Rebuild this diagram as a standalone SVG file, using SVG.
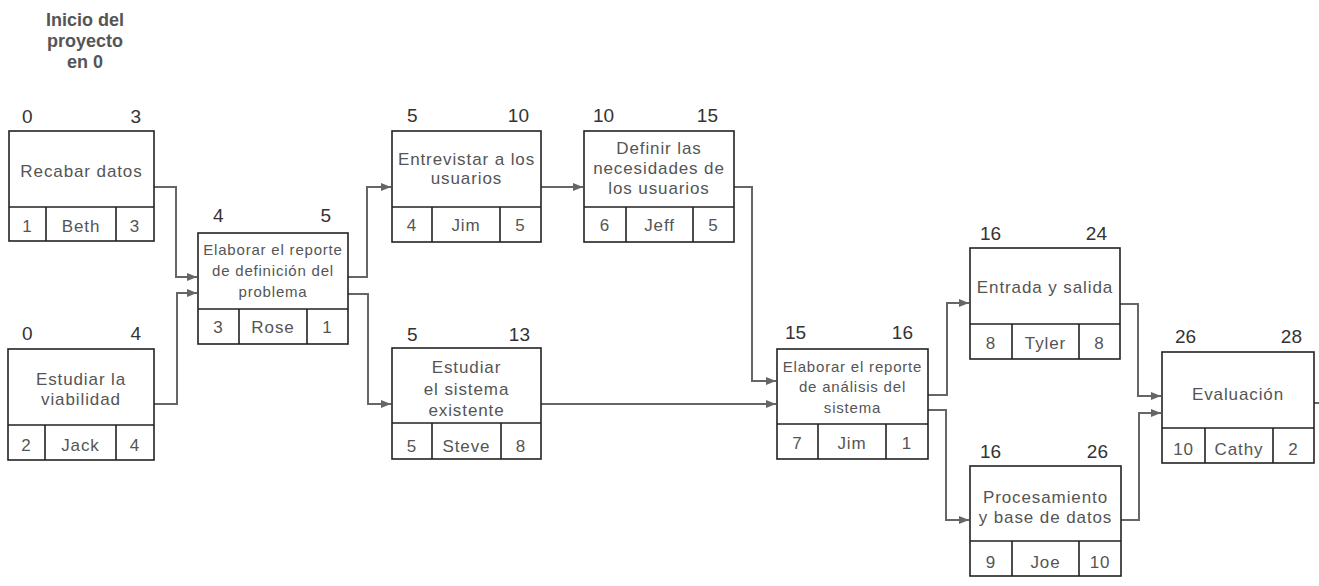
<svg xmlns="http://www.w3.org/2000/svg" width="1319" height="586" viewBox="0 0 1319 586">
<style>
.box{fill:#fff;stroke:#222;stroke-width:1.6}
.ln{stroke:#222;stroke-width:1.6;fill:none}
.t{font-family:"Liberation Sans Narrow","Liberation Sans",Arial,sans-serif;fill:#555;font-size:17px;letter-spacing:0.9px;text-anchor:middle}
.s{font-size:15px;letter-spacing:0.8px}
.n{font-family:"Liberation Sans Narrow","Liberation Sans",Arial,sans-serif;fill:#333;font-size:19px}
.e{text-anchor:end}
.h{font-family:"Liberation Sans",Arial,sans-serif;font-weight:bold;fill:#555;font-size:18px;text-anchor:middle}
.c{stroke:#666;stroke-width:2;fill:none;marker-end:url(#a)}
</style>
<defs>
<marker id="a" markerUnits="userSpaceOnUse" markerWidth="10" markerHeight="8" refX="10" refY="4" orient="auto">
<path d="M0,0 L10,4 L0,8 z" fill="#666"/>
</marker>
</defs>
<g id="header">
<text class="h" x="85" y="26">Inicio del</text>
<text class="h" x="85" y="47">proyecto</text>
<text class="h" x="85" y="68">en 0</text>
</g>
<g id="connectors">
<polyline class="c" points="154,187 176,187 176,277 197,277"/>
<polyline class="c" points="154,404 177,404 177,293 197,293"/>
<polyline class="c" points="348,277 367,277 367,187 391,187"/>
<polyline class="c" points="348,294 368,294 368,404 391,404"/>
<polyline class="c" points="541,187 583,187"/>
<polyline class="c" points="734,187 752,187 752,381 776,381"/>
<polyline class="c" points="541,404 776,404"/>
<polyline class="c" points="928,395 947,395 947,303 969,303"/>
<polyline class="c" points="928,410 946,410 946,520 969,520"/>
<polyline class="c" points="1120,304 1138,304 1138,396 1161,396"/>
<polyline class="c" points="1121,520 1139,520 1139,413 1161,413"/>
<line x1="1314" y1="403" x2="1319" y2="403" stroke="#666" stroke-width="2"/>
</g>
<g id="n1">
<rect class="box" x="9" y="131" width="145" height="110"/>
<path class="ln" d="M9,207H154M46,207V241M116,207V241"/>
<text class="n" x="22" y="123">0</text><text class="n e" x="141" y="123">3</text>
<text class="t" x="81.5" y="177">Recabar datos</text>
<text class="t" x="27.5" y="232">1</text><text class="t" x="81" y="232">Beth</text><text class="t" x="135" y="232">3</text>
</g>
<g id="n2">
<rect class="box" x="8" y="349" width="146" height="111"/>
<path class="ln" d="M8,425H154M45,425V460M116,425V460"/>
<text class="n" x="22" y="340">0</text><text class="n e" x="141" y="340">4</text>
<text class="t" x="81" y="385">Estudiar la</text>
<text class="t" x="81" y="405">viabilidad</text>
<text class="t" x="26.5" y="451">2</text><text class="t" x="80.5" y="451">Jack</text><text class="t" x="135" y="451">4</text>
</g>
<g id="n3">
<rect class="box" x="198" y="233" width="150" height="111"/>
<path class="ln" d="M198,309H348M239,309V344M307,309V344"/>
<text class="n" x="213" y="222">4</text><text class="n e" x="331" y="222">5</text>
<text class="t s" x="273" y="255">Elaborar el reporte</text>
<text class="t s" x="273" y="276">de definición del</text>
<text class="t s" x="273" y="297">problema</text>
<text class="t" x="218.5" y="333">3</text><text class="t" x="273" y="333">Rose</text><text class="t" x="327.5" y="333">1</text>
</g>
<g id="n4">
<rect class="box" x="392" y="131" width="149" height="111"/>
<path class="ln" d="M392,207H541M432,207V242M500,207V242"/>
<text class="n" x="407" y="122">5</text><text class="n e" x="529" y="122">10</text>
<text class="t" x="466.5" y="165">Entrevistar a los</text>
<text class="t" x="466.5" y="184">usuarios</text>
<text class="t" x="412" y="231">4</text><text class="t" x="466" y="231">Jim</text><text class="t" x="520.5" y="231">5</text>
</g>
<g id="n5">
<rect class="box" x="584" y="131" width="150" height="111"/>
<path class="ln" d="M584,207H734M626,207V242M693,207V242"/>
<text class="n" x="593" y="122">10</text><text class="n e" x="718" y="122">15</text>
<text class="t" x="659" y="154">Definir las</text>
<text class="t" x="659" y="174">necesidades de</text>
<text class="t" x="659" y="194">los usuarios</text>
<text class="t" x="605" y="231">6</text><text class="t" x="659.5" y="231">Jeff</text><text class="t" x="713.5" y="231">5</text>
</g>
<g id="n6">
<rect class="box" x="392" y="348" width="149" height="111"/>
<path class="ln" d="M392,423H541M432,423V459M501,423V459"/>
<text class="n" x="407" y="341">5</text><text class="n e" x="530" y="341">13</text>
<text class="t" x="466.5" y="373">Estudiar</text>
<text class="t" x="466.5" y="395">el sistema</text>
<text class="t" x="466.5" y="416">existente</text>
<text class="t" x="412" y="452">5</text><text class="t" x="466.5" y="452">Steve</text><text class="t" x="521" y="452">8</text>
</g>
<g id="n7">
<rect class="box" x="777" y="349" width="151" height="110"/>
<path class="ln" d="M777,424H928M818,424V459M886,424V459"/>
<text class="n" x="785" y="339">15</text><text class="n e" x="913" y="339">16</text>
<text class="t s" x="852.5" y="372">Elaborar el reporte</text>
<text class="t s" x="852.5" y="392">de análisis del</text>
<text class="t s" x="852.5" y="413">sistema</text>
<text class="t" x="797.5" y="449">7</text><text class="t" x="852" y="449">Jim</text><text class="t" x="907" y="449">1</text>
</g>
<g id="n8">
<rect class="box" x="970" y="248" width="150" height="111"/>
<path class="ln" d="M970,324H1120M1012,324V359M1079,324V359"/>
<text class="n" x="980" y="240">16</text><text class="n e" x="1107" y="240">24</text>
<text class="t" x="1045" y="293">Entrada y salida</text>
<text class="t" x="991" y="349">8</text><text class="t" x="1045.5" y="349">Tyler</text><text class="t" x="1099.5" y="349">8</text>
</g>
<g id="n9">
<rect class="box" x="970" y="466" width="151" height="110"/>
<path class="ln" d="M970,541H1121M1012,541V576M1079,541V576"/>
<text class="n" x="980" y="458">16</text><text class="n e" x="1108" y="458">26</text>
<text class="t" x="1045.5" y="503">Procesamiento</text>
<text class="t" x="1045.5" y="523">y base de datos</text>
<text class="t" x="991" y="568">9</text><text class="t" x="1045.5" y="568">Joe</text><text class="t" x="1100" y="568">10</text>
</g>
<g id="n10">
<rect class="box" x="1162" y="352" width="152" height="111"/>
<path class="ln" d="M1162,428H1314M1205,428V463M1273,428V463"/>
<text class="n" x="1175" y="343">26</text><text class="n e" x="1302" y="343">28</text>
<text class="t" x="1238" y="400">Evaluación</text>
<text class="t" x="1183.5" y="455">10</text><text class="t" x="1239" y="455">Cathy</text><text class="t" x="1293.5" y="455">2</text>
</g>
</svg>
